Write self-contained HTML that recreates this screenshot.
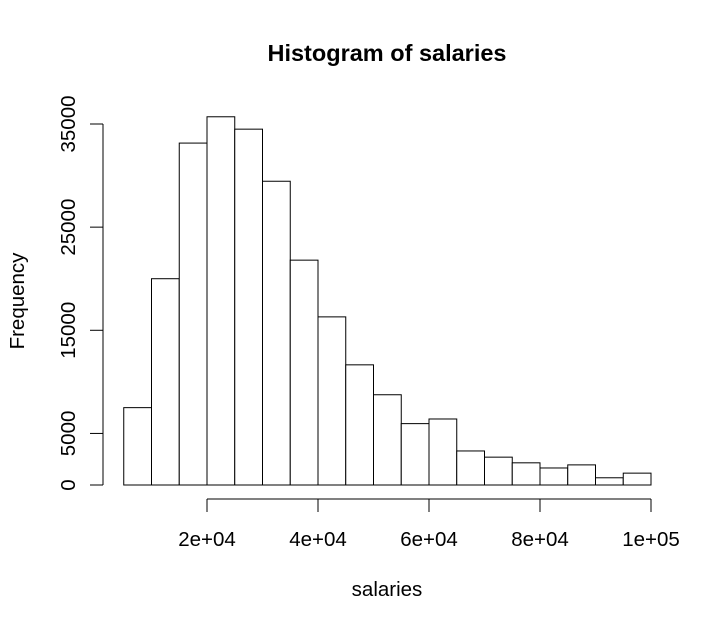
<!DOCTYPE html>
<html><head><meta charset="utf-8"><style>
html,body{margin:0;padding:0;background:#fff;}
svg{display:block;font-family:"Liberation Sans",Arial,sans-serif;}
</style></head><body>
<svg id="chart" width="725" height="628" viewBox="0 0 725 628" xmlns="http://www.w3.org/2000/svg">
<rect width="725" height="628" fill="#fff"/>
<text x="387" y="61" text-anchor="middle" font-size="23.5" font-weight="bold">Histogram of salaries</text>
<text x="387" y="596" text-anchor="middle" font-size="20.5">salaries</text>
<text transform="translate(24,301) rotate(-90)" text-anchor="middle" font-size="20.5">Frequency</text>
<g id="bars"></g>
<g id="xaxis"></g>
<g id="yaxis"></g>
</svg>
<script>
const binStarts = [5000,10000,15000,20000,25000,30000,35000,40000,45000,50000,55000,60000,65000,70000,75000,80000,85000,90000,95000];
const counts = [7500,20000,33150,35700,34500,29450,21800,16300,11650,8750,5950,6400,3300,2700,2150,1650,1950,700,1150];
const binWidth = 5000;
const xTicks = [20000,40000,60000,80000,100000];
const xTickLabels = ["2e+04","4e+04","6e+04","8e+04","1e+05"];
const yTicks = [0,5000,15000,25000,35000];
const yTickLabels = ["0","5000","15000","25000","35000"];

const NS="http://www.w3.org/2000/svg";
function xs(v){return 207+(v-20000)*(444/80000);}
function ys(v){return 485-v*(361/35000);}
function mk(tag,attrs,parent){const e=document.createElementNS(NS,tag);for(const k in attrs)e.setAttribute(k,attrs[k]);parent.appendChild(e);return e;}

const bars=document.getElementById('bars');
binStarts.forEach((s,i)=>{
  const x0=xs(s),x1=xs(s+binWidth),y=ys(counts[i]);
  const r=mk('rect',{x:x0,y:y,width:x1-x0,height:ys(0)-y,fill:'#fff',stroke:'#000','stroke-width':1},bars);
  
  
});

const xa=document.getElementById('xaxis');
mk('line',{x1:xs(xTicks[0]),x2:xs(xTicks[xTicks.length-1]),y1:499,y2:499,stroke:'#000'},xa);
xTicks.forEach((t,i)=>{
  mk('line',{x1:xs(t),x2:xs(t),y1:499,y2:512,stroke:'#000'},xa);
  const tx=mk('text',{x:xs(t),y:546,'text-anchor':'middle','font-size':20.5},xa);
  tx.textContent=xTickLabels[i];
  
  
});

const ya=document.getElementById('yaxis');
mk('line',{x1:103,x2:103,y1:ys(yTicks[0]),y2:ys(yTicks[yTicks.length-1]),stroke:'#000'},ya);
yTicks.forEach((t,i)=>{
  mk('line',{x1:90,x2:103,y1:ys(t),y2:ys(t),stroke:'#000'},ya);
  const tx=mk('text',{transform:'translate(75,'+ys(t)+') rotate(-90)','text-anchor':'middle','font-size':20.5},ya);
  tx.textContent=yTickLabels[i];
  
  
});
</script>
</body></html>
